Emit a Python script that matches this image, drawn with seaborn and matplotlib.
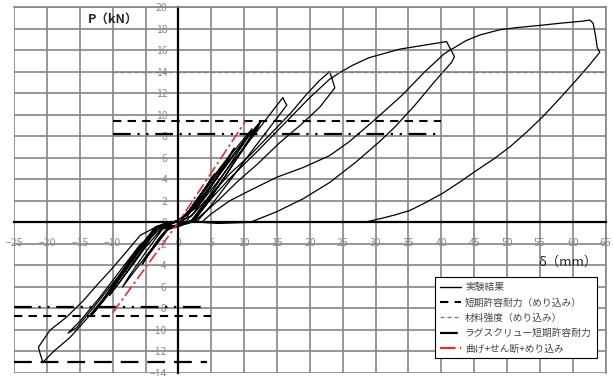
import numpy as np
import pandas as pd
import seaborn as sns
from matplotlib import pyplot as plt
from matplotlib.lines import Line2D

# 実験結果（荷重-変位の履歴、図から読み取り）
delta = [
    0, 1.5, 3, 4.5, 5.5, 4.8, 3, 1.2, 0, -1.5, -3, -4.5, -5.5, -4.8, -3, -1.2, 0,
    1.5, 3.5, 5.5, 7.5, 8.5, 7.5, 5, 2.5, 1, 0, -2, -4, -6, -8, -8.5, -7.5, -5, -2.5, -1, 0,
    2, 4, 6, 8, 10, 11.2, 10, 7, 4, 2, 0, -2.5, -5, -7, -9, -10.5, -9, -6.5, -4, -2, 0,
    2.5, 5, 7.5, 10, 12.4, 12.2, 10, 7, 4, 2, 0, -3, -6, -9, -11, -13, -11.5, -8.5, -5.5, -3, 0,
    3, 6, 9, 11.5, 12.6, 11, 8, 5, 2.5, 0, -3.5, -6.5, -9.5, -12.5, -13.2, -12, -9, -6, -3.5, -1,
    -3, -6, -9, -12, -15, -16.8, -15.5, -12.5, -9, -6, -3, 0,
    3, 6, 9, 12, 14, 15.9, 16.1, 16.5, 14, 11, 8, 5, 3, 1.5, 0,
    -1.3, -3.3, -5.8, -8, -10.4, -12.5, -14.5, -17, -19.5, -21.3, -21.0, -20.6,
    -19, -16.5, -14, -11, -8, -5.5, -3.5, -2, 0,
    2, 5, 7.8, 11, 14, 17, 19.5, 21.5, 23, 23.4, 23.8,
    21.5, 18.5, 15.4, 12, 9, 6, 3, 2,
    5, 8, 12, 16, 20, 23, 24.5, 26.5, 29, 33.7, 36.7, 38.7, 40.8, 41.3, 42.0, 41.6,
    39, 36, 33, 30.6, 27, 23, 19, 15, 10.9, 6, 3.5,
    5, 7.8, 11, 15, 19, 23, 26, 30, 34, 37.5, 40.5, 43.8, 45.8, 48.9, 51.5, 54.9, 58, 61.5,
    62.6, 63.1, 63.5, 63.7, 64.1,
    62.5, 60.5, 58, 55.4, 53, 50.4, 48, 45.3, 42.7, 40.2, 37.5, 35.2, 33, 31.1, 29, 28,
]
load = [
    0, 1.0, 2.3, 3.6, 4.5, 3.9, 2.0, 0.4, -0.2, -0.6, -1.8, -3.0, -3.9, -3.2, -1.5, -0.2, 0.1,
    1.0, 2.7, 4.4, 6.0, 6.9, 5.8, 3.4, 1.0, 0, -0.3, -0.8, -2.4, -4.0, -5.6, -6.0, -5.0, -2.8, -0.7, 0, 0.2,
    1.2, 2.9, 4.6, 6.3, 7.8, 8.7, 7.4, 4.6, 1.8, 0.2, -0.2, -0.6, -2.3, -4.0, -5.6, -6.8, -5.6, -3.4, -1.3, -0.2, 0.2,
    1.4, 3.5, 5.6, 7.6, 9.3, 8.9, 6.9, 4.2, 1.6, 0.1, -0.3, -0.5, -2.7, -5.3, -7.0, -8.5, -7.3, -4.8, -2.2, -0.4, 0.1,
    1.6, 4.2, 6.7, 8.6, 9.4, 8.0, 5.1, 2.3, 0.2, -0.4, -0.6, -3.0, -5.7, -8.0, -8.6, -7.6, -5.0, -2.4, -0.4, 0,
    -0.5, -2.2, -4.6, -7.0, -9.2, -10.3, -9.8, -7.6, -4.9, -2.3, -0.3, 0.1,
    1.5, 3.8, 6.2, 8.5, 10.1, 11.6, 11.3, 10.9, 8.9, 6.5, 4.0, 1.6, 0.2, -0.1, -0.3,
    -0.3, -0.4, -1.2, -2.8, -4.5, -5.9, -7.3, -8.8, -10.0, -11.6, -12.3, -13.0,
    -12.0, -10.7, -9.0, -6.8, -4.4, -2.3, -0.7, 0, 0.1,
    0.6, 2.6, 4.5, 6.3, 8.2, 10.1, 11.9, 13.2, 14.0, 13.3, 12.5,
    10.7, 9.0, 7.4, 5.4, 3.8, 2.0, 0.4, 0,
    2.2, 4.2, 6.6, 9.1, 11.6, 13.3, 13.9, 14.6, 15.3, 16.1, 16.4, 16.6, 16.8, 16.2, 15.4, 14.9,
    13.1, 10.9, 8.9, 7.5, 5.6, 3.7, 2.2, 1.0, 0, -0.1, 0,
    0.8, 2.0, 3.0, 4.2, 5.1, 6.2, 7.5, 9.6, 11.8, 14.0, 15.7, 16.9, 17.4, 17.9, 18.1, 18.3, 18.5, 18.7,
    18.8, 18.5, 17.2, 16.3, 15.8,
    14.6, 13.2, 11.5, 9.8, 8.4, 7.0, 5.9, 4.8, 3.7, 2.7, 1.8, 1.1, 0.7, 0.4, 0.1, 0,
]

# 計算値（水平線）
short_pos_x, short_pos_y = [-10, 40], [9.4, 9.4]
short_neg_x, short_neg_y = [-25, 5], [-8.7, -8.7]
lag_pos_x, lag_pos_y = [-10, 40], [8.2, 8.2]
lag_neg_x, lag_neg_y = [-25, 4.3], [-7.9, -7.9]
mat_pos_x, mat_pos_y = [-10, 65], [14.0, 14.0]
mat_neg_x, mat_neg_y = [-25, 4.3], [-13.0, -13.0]
# 曲げ+せん断+めり込み
calc_x = [-10, 0, 10.2]
calc_y = [-8.4, 0, 9.4]

labels = ['実験結果', '短期許容耐力（めり込み）', '材料強度（めり込み）',
          'ラグスクリュー短期許容耐力', '曲げ+せん断+めり込み']

sns.set_style('white')
plt.rcParams['font.family'] = ['Noto Sans CJK JP', 'DejaVu Sans']

fig, ax = plt.subplots(figsize=(6.13, 3.76), dpi=100)
fig.subplots_adjust(left=0.023, right=0.988, top=0.981, bottom=0.008)

df = pd.DataFrame({'delta': delta, 'P': load})
sns.lineplot(data=df, x='delta', y='P', sort=False, estimator=None,
             color='black', lw=0.9, ax=ax, legend=False)

ls_short = (0, (4, 3))
ls_lag = (0, (8, 3, 1, 3, 1, 3))
ls_mat = (0, (3, 2))
ls_red = (0, (7, 2, 1.5, 2))

ax.plot(short_pos_x, short_pos_y, color='black', lw=1.5, ls=ls_short)
ax.plot(short_neg_x, short_neg_y, color='black', lw=1.5, ls=ls_short)
ax.plot(lag_pos_x, lag_pos_y, color='black', lw=1.6, ls=ls_lag)
ax.plot(lag_neg_x, lag_neg_y, color='black', lw=1.6, ls=ls_lag)
ax.plot(mat_pos_x, mat_pos_y, color='#808080', lw=1.0, ls=ls_mat)
ax.plot(mat_neg_x, mat_neg_y, color='black', lw=1.6, ls=(0, (8, 4)))
ax.plot(calc_x, calc_y, color='#e03030', lw=1.2, ls=ls_red)

ax.set_xlim(-25, 65)
ax.set_ylim(-14, 20)
ax.set_xticks(np.arange(-25, 66, 5))
ax.set_yticks(np.arange(-14, 21, 2))
ax.grid(True, color='#858585', lw=1.2)
ax.set_axisbelow(True)

ax.spines['left'].set_position(('data', 0))
ax.spines['bottom'].set_position(('data', 0))
for s in ['left', 'bottom']:
    ax.spines[s].set_color('black')
    ax.spines[s].set_linewidth(1.6)
for s in ['right', 'top']:
    ax.spines[s].set_color('#858585')
    ax.spines[s].set_linewidth(1.2)
ax.tick_params(axis='both', length=0, labelsize=7.5, labelcolor='#8a8a8a')
ax.tick_params(axis='y', pad=8)
ax.tick_params(axis='x', pad=11)
ax.set_xlabel('')
ax.set_ylabel('')

ax.text(0.125, 0.964, 'P（kN）', transform=ax.transAxes, fontsize=9,
        fontweight='bold', ha='left', va='center')
ax.text(0.986, 0.303, 'δ（mm）', transform=ax.transAxes, fontsize=9.5,
        ha='right', va='center')

handles = [
    Line2D([], [], color='black', lw=1.0),
    Line2D([], [], color='black', lw=1.5, ls=ls_short),
    Line2D([], [], color='#808080', lw=1.0, ls=ls_mat),
    Line2D([], [], color='black', lw=1.6, ls=ls_lag),
    Line2D([], [], color='#e03030', lw=1.6, ls=ls_red),
]
leg = ax.legend(handles, labels, loc='lower right', bbox_to_anchor=(0.993, 0.027),
                fontsize=7, frameon=True, fancybox=False, framealpha=1,
                edgecolor='black', handlelength=2.2, labelspacing=0.55,
                borderpad=0.5, handletextpad=0.4)
leg.get_frame().set_linewidth(0.8)
for t in leg.get_texts():
    t.set_color('#444444')

fig.savefig('out.png', dpi=100)
